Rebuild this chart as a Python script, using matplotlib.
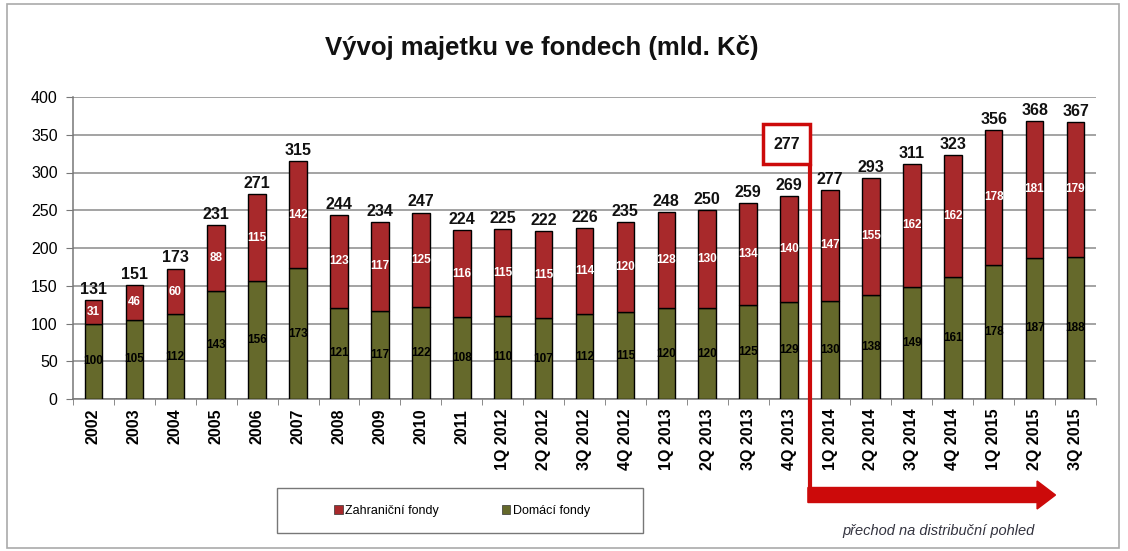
import matplotlib
matplotlib.use("Agg")
import matplotlib.pyplot as plt
import matplotlib.patches as ptc
from matplotlib.transforms import blended_transform_factory
import numpy as np

plt.rcParams['font.family'] = ['Liberation Sans', 'DejaVu Sans']

# --- data ---
categories = ["2002", "2003", "2004", "2005", "2006", "2007", "2008", "2009",
              "2010", "2011", "1Q 2012", "2Q 2012", "3Q 2012", "4Q 2012",
              "1Q 2013", "2Q 2013", "3Q 2013", "4Q 2013", "1Q 2014",
              "2Q 2014", "3Q 2014", "4Q 2014", "1Q 2015", "2Q 2015", "3Q 2015"]
domestic = [100, 105, 112, 143, 156, 173, 121, 117, 122, 108, 110, 107, 112,
            115, 120, 120, 125, 129, 130, 138, 149, 161, 178, 187, 188]
foreign = [31, 46, 60, 88, 115, 142, 123, 117, 125, 116, 115, 115, 114,
           120, 128, 130, 134, 140, 147, 155, 162, 162, 178, 181, 179]
totals = [131, 151, 173, 231, 271, 315, 244, 234, 247, 224, 225, 222, 226,
          235, 248, 250, 259, 269, 277, 293, 311, 323, 356, 368, 367]
boxed_label = "277"
boxed_idx = 17
yticks = [0, 50, 100, 150, 200, 250, 300, 350, 400]

title = "Vývoj majetku ve fondech (mld. Kč)"
legend_labels = ["Zahraniční fondy", "Domácí fondy"]
note = "přechod na distribuční pohled"

GREEN = "#65692b"
RED = "#a8292b"
ARROW = "#cc0a0a"

W, H = 1128, 551
fig = plt.figure(figsize=(W / 100, H / 100), dpi=100)
fig.patch.set_facecolor("white")
ax = fig.add_axes([73 / W, 1 - 399 / H, (1096 - 73) / W, (399 - 97) / H])

x = np.arange(len(categories))
bw = 0.43
ax.bar(x, domestic, bw, color=GREEN, edgecolor="black", linewidth=1, zorder=3)
ax.bar(x, foreign, bw, bottom=domestic, color=RED, edgecolor="black",
       linewidth=1, zorder=3)

for i in range(len(categories)):
    ax.text(x[i], domestic[i] / 2, str(domestic[i]), ha="center", va="center",
            fontsize=8.5, fontweight="bold", color="black", zorder=4)
    ax.text(x[i], domestic[i] + foreign[i] / 2, str(foreign[i]), ha="center",
            va="center", fontsize=8.5, fontweight="bold", color="white",
            zorder=4)
    ax.text(x[i], totals[i] + 4, str(totals[i]), ha="center", va="bottom",
            fontsize=11.5, fontweight="bold", color="#111111", zorder=4)

ax.set_xlim(-0.5, len(categories) - 0.5)
ax.set_ylim(0, 400)
ax.set_yticks(yticks)
ax.set_yticklabels([str(v) for v in yticks], fontsize=11.5)
ax.yaxis.grid(True, color="#8a8a8a", linewidth=1.1, zorder=0)
ax.set_axisbelow(True)
ax.set_xticks(x)
ax.set_xticklabels(categories, rotation=90, fontsize=11.5, fontweight="bold")
ax.set_xticks(np.arange(-0.5, len(categories), 1), minor=True)
ax.tick_params(axis="x", which="major", length=0, pad=7)
ax.tick_params(axis="x", which="minor", length=4, color="#777777")
ax.tick_params(axis="y", length=5, color="#777777", pad=6)
for s in ["top", "right"]:
    ax.spines[s].set_visible(False)
for s in ["left", "bottom"]:
    ax.spines[s].set_color("#777777")
    ax.spines[s].set_linewidth(1.1)

# title
fig.text(542 / W, 1 - 48 / H, title, ha="center", va="center",
         fontsize=18.5, fontweight="bold", color="#111111")

# red box with 277
bx0, bx1 = boxed_idx - 0.63, boxed_idx + 0.5
by0, by1 = 311, 364
ax.add_patch(ptc.Rectangle((bx0, by0), bx1 - bx0, by1 - by0, facecolor="white",
                           edgecolor=ARROW, linewidth=2.5, zorder=5,
                           clip_on=False))
ax.text((bx0 + bx1) / 2, (by0 + by1) / 2, boxed_label, ha="center",
        va="center", fontsize=11.5, fontweight="bold", color="#111111",
        zorder=6)

# arrow: vertical line + thick horizontal arrow
trans = blended_transform_factory(ax.transData, fig.transFigure)
y_box = ax.transData.transform((0, by0))[1] / H
y_arrow = 1 - 495 / H
ax.plot([bx1, bx1], [y_box, y_arrow - 8 / H], color=ARROW, linewidth=3,
        transform=trans, clip_on=False, zorder=6, solid_capstyle="butt")
arr = ptc.FancyArrow(bx1 - 0.04, y_arrow, 23.55 - bx1, 0, width=15 / H,
                     head_width=28 / H, head_length=0.45,
                     length_includes_head=True, color=ARROW, transform=trans,
                     clip_on=False, zorder=6)
fig.add_artist(arr)

fig.text(842 / W, 1 - 531 / H, note, ha="left", va="center", fontsize=10.5,
         style="italic", color="#33333f")

# legend with frame
fig.add_artist(ptc.Rectangle((277 / W, 1 - 533 / H), (643 - 277) / W,
                             (533 - 488) / H, transform=fig.transFigure,
                             facecolor="white", edgecolor="#777777",
                             linewidth=1))
handles = [ptc.Patch(facecolor=RED, edgecolor="#333333", linewidth=0.5),
           ptc.Patch(facecolor=GREEN, edgecolor="#333333", linewidth=0.5)]
fig.legend(handles, legend_labels, loc="center", ncol=2,
           bbox_to_anchor=(462 / W, 1 - 511 / H), frameon=False, fontsize=9,
           handlelength=0.7, handleheight=0.7, handletextpad=0.2,
           columnspacing=5)

# outer frame
fig.add_artist(ptc.Rectangle((7 / W, 1 - 548 / H), (1119 - 7) / W,
                             (548 - 4) / H, transform=fig.transFigure,
                             facecolor="none", edgecolor="#aaaaaa",
                             linewidth=1.2))

fig.savefig("out.png", dpi=100)
